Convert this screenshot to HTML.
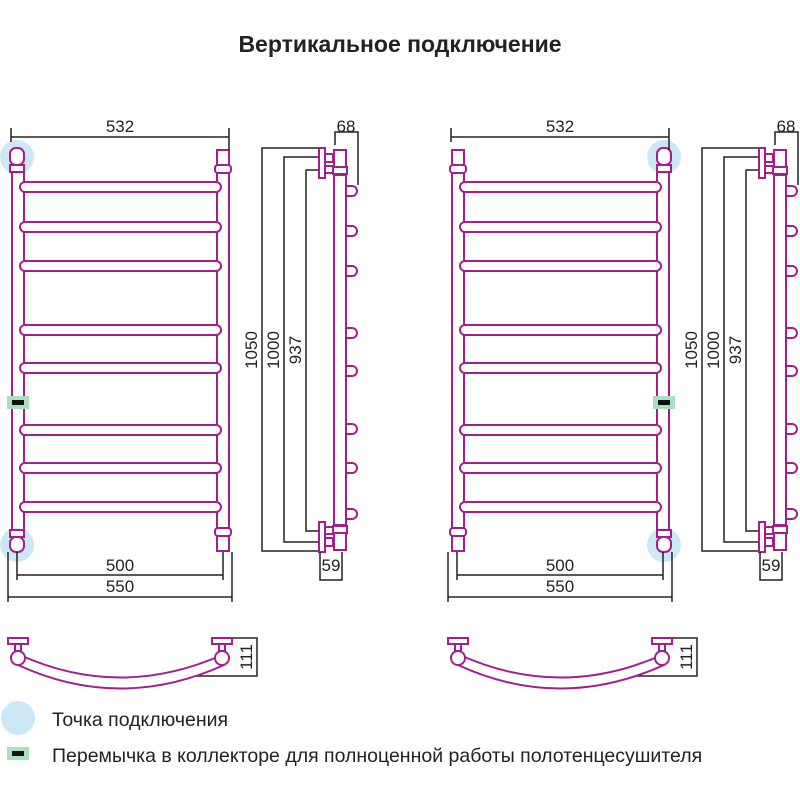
<!DOCTYPE html>
<html><head><meta charset="utf-8"><style>
body{margin:0;background:#fff}
svg{display:block}
text{font-family:"Liberation Sans",sans-serif;fill:#222}
</style></head><body>
<svg width="800" height="800" viewBox="0 0 800 800" xmlns="http://www.w3.org/2000/svg">
<defs>
<g id="bars" fill="#fff" stroke="#a1208a" stroke-width="2">
<rect x="20" y="182" width="201" height="10" rx="5"/>
<rect x="20" y="222" width="201" height="10" rx="5"/>
<rect x="20" y="261" width="201" height="10" rx="5"/>
<rect x="20" y="325" width="201" height="10" rx="5"/>
<rect x="20" y="363" width="201" height="10" rx="5"/>
<rect x="20" y="425" width="201" height="10" rx="5"/>
<rect x="20" y="463" width="201" height="10" rx="5"/>
<rect x="20" y="502" width="201" height="10" rx="5"/>
</g>
<g id="side" fill="#fff" stroke="#a1208a" stroke-width="2">
<g>
<path d="M346 186 h6 a5 5 0 0 1 0 10 h-6"/>
<path d="M346 226 h6 a5 5 0 0 1 0 10 h-6"/>
<path d="M346 266 h6 a5 5 0 0 1 0 10 h-6"/>
<path d="M346 328 h6 a5 5 0 0 1 0 10 h-6"/>
<path d="M346 366 h6 a5 5 0 0 1 0 10 h-6"/>
<path d="M346 424 h6 a5 5 0 0 1 0 10 h-6"/>
<path d="M346 463 h6 a5 5 0 0 1 0 10 h-6"/>
<path d="M346 509 h6 a5 5 0 0 1 0 10 h-6"/>
</g>
<rect x="334" y="150" width="12" height="400"/>
<rect x="334" y="150" width="12" height="25"/>
<rect x="334" y="525" width="12" height="25"/>
<rect x="333" y="167" width="14" height="7"/>
<rect x="333" y="526" width="14" height="7"/>
<rect x="319" y="148" width="6" height="30"/>
<rect x="319" y="522" width="6" height="30"/>
<rect x="325" y="154" width="8" height="8"/>
<rect x="325" y="166" width="8" height="7"/>
<rect x="325" y="527" width="8" height="7"/>
<rect x="325" y="538" width="8" height="8"/>
</g>
<g id="dims" fill="none" stroke="#222" stroke-width="1.5">
<path d="M318 148 H262 V551 H318"/>
<path d="M318 157 H284 V542 H318"/>
<path d="M318 170 H306 V531 H318"/>
<path d="M335 145 V132 H358 V185"/>
<path d="M320 552 V580 H342 V552"/>
<path d="M11 128 V142 M11 137 H229 M229 128 V150"/>
<path d="M17 552 V580 M17 575 H223 M223 552 V580"/>
<path d="M8 552 V602 M8 597 H232 M232 552 V602"/>
<path d="M232 638 H257 V676 H160"/>
</g>
<g id="dimtext" font-size="17">
<text x="120" y="132" text-anchor="middle">532</text>
<text x="346" y="132" text-anchor="middle">68</text>
<text x="331" y="571" text-anchor="middle">59</text>
<text x="120" y="571" text-anchor="middle">500</text>
<text x="120" y="592" text-anchor="middle">550</text>
<text transform="translate(257,350) rotate(-90)" text-anchor="middle">1050</text>
<text transform="translate(279,350) rotate(-90)" text-anchor="middle">1000</text>
<text transform="translate(301,350) rotate(-90)" text-anchor="middle">937</text>
<text transform="translate(252,657) rotate(-90)" text-anchor="middle">111</text>
</g>
<g id="bottom" fill="#fff" stroke="#a1208a" stroke-width="2">
<path d="M20 655 Q120 700 222 655 L224 665 Q120 712 18 665 Z"/>
<rect x="8" y="638" width="20" height="6"/>
<rect x="15" y="644" width="6" height="7"/>
<circle cx="18" cy="658" r="7"/>
<rect x="212" y="638" width="20" height="6"/>
<rect x="219" y="644" width="6" height="7"/>
<circle cx="222" cy="658" r="7"/>
</g>
</defs>

<text x="400" y="52" text-anchor="middle" font-size="23" font-weight="bold">Вертикальное подключение</text>

<!-- Left unit -->
<circle cx="17" cy="157" r="17" fill="#cce8f6"/>
<circle cx="17" cy="545" r="17" fill="#cce8f6"/>
<g fill="#fff" stroke="#a1208a" stroke-width="2">
<path d="M12 172 V530 M24 172 V530 M217 172 V528 M229 172 V528"/>
</g>
<use href="#bars"/>
<g fill="#fff" stroke="#a1208a" stroke-width="2">
<rect x="10" y="148" width="14" height="17" rx="6"/><rect x="10" y="165" width="14" height="7"/>
<rect x="10" y="530" width="14" height="7"/><rect x="10" y="537" width="14" height="15" rx="6"/>
<rect x="217" y="150" width="12" height="15"/><rect x="215" y="165" width="16" height="8" rx="3"/>
<rect x="215" y="528" width="16" height="8" rx="3"/><rect x="217" y="536" width="12" height="15"/>
</g>
<rect x="7" y="396" width="22" height="13" fill="#a8e0c0"/>
<rect x="12" y="400" width="12" height="5" fill="#111"/>
<use href="#side"/><use href="#dims"/><use href="#dimtext"/><use href="#bottom"/>

<!-- Right unit -->
<g transform="translate(440,0)">
<circle cx="224" cy="157" r="17" fill="#cce8f6"/>
<circle cx="224" cy="545" r="17" fill="#cce8f6"/>
<g fill="#fff" stroke="#a1208a" stroke-width="2">
<path d="M12 172 V528 M24 172 V528 M217 172 V530 M229 172 V530"/>
</g>
<use href="#bars"/>
<g fill="#fff" stroke="#a1208a" stroke-width="2">
<rect x="12" y="150" width="12" height="15"/><rect x="10" y="165" width="16" height="8" rx="3"/>
<rect x="10" y="528" width="16" height="8" rx="3"/><rect x="12" y="536" width="12" height="15"/>
<rect x="217" y="148" width="14" height="17" rx="6"/><rect x="217" y="165" width="14" height="7"/>
<rect x="217" y="530" width="14" height="7"/><rect x="217" y="537" width="14" height="15" rx="6"/>
</g>
<rect x="213" y="396" width="22" height="13" fill="#a8e0c0"/>
<rect x="218" y="400" width="12" height="5" fill="#111"/>
<use href="#side"/><use href="#dims"/><use href="#dimtext"/><use href="#bottom"/>
</g>

<!-- Legend -->
<circle cx="18" cy="718" r="17" fill="#cce8f6"/>
<text x="52" y="726" font-size="19.5">Точка подключения</text>
<rect x="7" y="747" width="22" height="13" fill="#a8e0c0"/>
<rect x="12" y="751" width="12" height="5" fill="#111"/>
<text x="52" y="762" font-size="19.5">Перемычка в коллекторе для полноценной работы полотенцесушителя</text>
</svg>
</body></html>
